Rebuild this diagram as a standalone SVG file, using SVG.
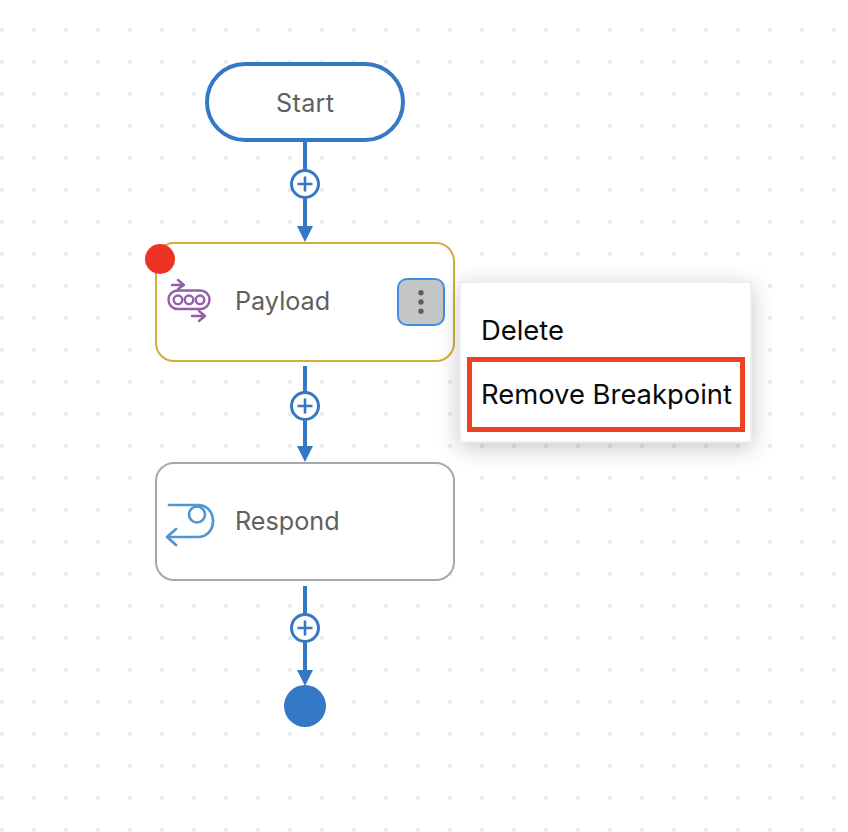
<svg xmlns="http://www.w3.org/2000/svg" width="848" height="832" viewBox="0 0 848 832">
<style>
.lbl{font-family:"Inter","Liberation Sans",sans-serif;font-size:25.2px;fill:#5f5f5f}
.menu{font-family:"Inter","Liberation Sans",sans-serif;font-size:27.4px;fill:#0a0a0a}
.edge{stroke:#3578c6;stroke-width:4;fill:none}
.head{fill:#3578c6}
.plus{fill:#fff;stroke:#3578c6;stroke-width:3}
.cross{stroke:#3578c6;stroke-width:2.6;fill:none}
.box{fill:#fff;stroke-width:2}
</style>
<defs>
<pattern id="dots" x="0" y="-4" width="32" height="32" patternUnits="userSpaceOnUse"><rect x="0" y="0" width="4" height="4" fill="#e8edf2"/></pattern>
<filter id="sh" x="-20%" y="-20%" width="140%" height="140%"><feDropShadow dx="0" dy="5" stdDeviation="11" flood-color="#000" flood-opacity="0.22"/></filter>
</defs>
<rect width="848" height="832" fill="#fff"/>
<rect width="848" height="832" fill="url(#dots)"/>
<g id="connectors">
<path class="edge" d="M305 140V228"/><path class="head" d="M297 226H313L305 242Z"/>
<circle class="plus" cx="305" cy="184" r="13.5"/><path class="cross" d="M305 176.500V191.500M297.500 184H312.500"/>
<path class="edge" d="M305 366V448"/><path class="head" d="M297 446H313L305 462Z"/>
<circle class="plus" cx="305" cy="406" r="13.500"/><path class="cross" d="M305 398.500V413.500M297.500 406H312.500"/>
<path class="edge" d="M305 586V672"/><path class="head" d="M297 670H313L305 686Z"/>
<circle class="plus" cx="305" cy="628" r="13.500"/><path class="cross" d="M305 620.500V635.500M297.500 628H312.500"/>
</g>
<g id="start"><rect x="207" y="64" width="196" height="76" rx="38" fill="#fff" stroke="#3578c6" stroke-width="4"/><text class="lbl" x="305" y="112" text-anchor="middle" textLength="58" lengthAdjust="spacing">Start</text></g>
<g id="payload">
<rect class="box" x="156" y="243" width="298" height="118" rx="18" stroke="#d4ac3a"/>
<circle cx="160" cy="259" r="15" fill="#ee3325"/>
<g fill="none" stroke="#9460a8" stroke-width="2.400" stroke-linecap="round" stroke-linejoin="round">
<rect x="168.500" y="290.500" width="41" height="18.500" rx="9.200"/>
<circle cx="178" cy="299.800" r="4.300"/><circle cx="189" cy="299.800" r="4.300"/><circle cx="200" cy="299.800" r="4.300"/>
<path d="M172 285H184M178 280L184 285L178 289"/><path d="M192 316H205M199 311L205 316L199 321"/>
</g>
<text class="lbl" x="235" y="310">Payload</text>
<rect x="398" y="279" width="46" height="46" rx="9" fill="#c4c5c5" stroke="#3f8fe6" stroke-width="2"/>
<g fill="#5f5f5f"><circle cx="421" cy="292.700" r="2.700"/><circle cx="421" cy="302" r="2.700"/><circle cx="421" cy="311.300" r="2.700"/></g>
</g>
<g id="respond">
<rect class="box" x="156" y="463" width="298" height="117" rx="18" stroke="#a8a8a8"/>
<g fill="none" stroke="#5096d2" stroke-width="2.700" stroke-linecap="round" stroke-linejoin="round">
<path d="M169 505H198C207 505 213 512 213 521C213 530 207 537 198 537H167M176 529L167 537L176 545"/>
<circle cx="197" cy="514.500" r="8"/>
</g>
<text class="lbl" x="235" y="530">Respond</text>
</g>
<g id="end"><circle cx="305" cy="706" r="21" fill="#3578c6"/></g>
<g id="menu">
<rect x="460" y="282" width="291" height="160" fill="#fff" stroke="#eeeeee" stroke-width="2" filter="url(#sh)"/>
<text class="menu" x="481" y="340">Delete</text>
<text class="menu" x="481" y="404">Remove Breakpoint</text>
<rect x="469.500" y="359.500" width="273" height="70" fill="none" stroke="#ee4225" stroke-width="5"/>
</g>
</svg>
